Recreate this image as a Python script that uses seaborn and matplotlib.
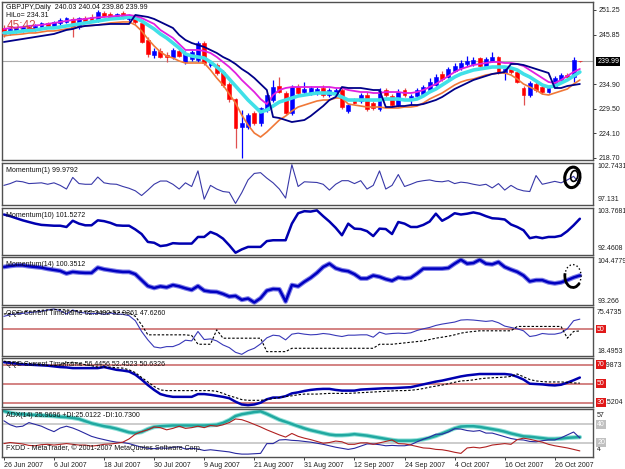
import numpy as np
import matplotlib
matplotlib.use("Agg")
import matplotlib.pyplot as plt
import matplotlib.transforms as mtransforms
from matplotlib.patches import Ellipse, Arc
import seaborn as sns

# ---------------- data ----------------
date_labels = ["26 Jun 2007", "6 Jul 2007", "18 Jul 2007", "30 Jul 2007", "9 Aug 2007",
               "21 Aug 2007", "31 Aug 2007", "12 Sep 2007", "24 Sep 2007", "4 Oct 2007",
               "16 Oct 2007", "26 Oct 2007"]
date_bars = [0, 8, 16, 24, 32, 40, 48, 56, 64, 72, 80, 88]

opens = [247.3, 246.2, 246.6, 246.9, 247.6, 247.0, 247.5, 248.3, 247.8, 248.4,
         248.7, 249.3, 247.4, 249.4, 249.7, 248.9, 250.6, 250.4, 249.8, 250.6,
         249.3, 249.8, 248.3, 244.6, 241.4, 242.3, 241.4, 240.9, 242.3, 239.8,
         240.5, 240.2, 244.0, 239.1, 239.2, 237.6, 235.0, 231.6, 225.6, 225.6,
         228.6, 226.3, 229.3, 231.4, 234.6, 233.0, 228.6, 234.3, 233.2, 232.9,
         233.0, 234.2, 232.5, 232.8, 233.6, 229.0, 231.6, 231.2, 232.6, 230.8,
         229.4, 233.6, 232.3, 230.4, 233.7, 231.8, 232.4, 232.8, 233.6, 234.8,
         237.2, 236.6, 237.9, 238.4, 239.4, 239.3, 240.6, 239.0, 240.0, 240.8,
         237.4, 238.3, 237.6, 234.2, 232.5, 235.0, 234.3, 233.3, 234.3, 235.8,
         237.0, 236.5, 240.03]
highs = [247.9, 247.3, 247.6, 247.9, 248.0, 248.1, 248.6, 248.7, 248.9, 249.4,
         249.8, 249.7, 249.8, 249.9, 250.3, 251.2, 251.0, 250.9, 250.6, 251.0,
         250.4, 250.1, 248.6, 245.2, 242.8, 242.8, 242.0, 242.9, 242.8, 242.2,
         242.4, 244.5, 244.4, 240.2, 239.6, 238.0, 235.4, 232.0, 229.3, 228.6,
         229.0, 230.0, 233.1, 235.9, 236.5, 233.5, 234.8, 234.9, 235.5, 234.6,
         234.4, 234.7, 234.0, 234.1, 234.0, 230.6, 232.0, 233.0, 233.2, 231.2,
         234.0, 234.1, 232.8, 233.8, 234.2, 232.8, 234.1, 234.8, 236.2, 237.2,
         237.8, 238.8, 239.6, 240.2, 241.2, 240.8, 241.0, 241.0, 241.9, 241.2,
         239.0, 238.7, 238.0, 234.6, 235.6, 235.4, 234.7, 234.4, 236.7, 237.3,
         237.4, 240.8, 240.04]
lows = [245.4, 245.8, 246.2, 246.5, 246.6, 246.7, 247.2, 247.4, 247.5, 248.0,
        248.3, 245.4, 247.1, 248.5, 248.6, 248.6, 249.7, 249.5, 249.4, 249.3,
        248.6, 248.2, 243.9, 240.8, 240.6, 240.6, 239.8, 240.5, 240.9, 239.4,
        240.1, 239.9, 239.1, 238.6, 237.0, 234.3, 231.1, 220.9, 218.7, 225.0,
        226.0, 225.8, 228.9, 231.0, 233.0, 228.3, 228.2, 232.6, 232.8, 232.5,
        232.6, 232.2, 232.1, 232.4, 229.5, 228.6, 230.5, 230.9, 229.0, 229.2,
        229.1, 232.2, 230.0, 230.0, 232.2, 230.3, 232.0, 232.4, 233.3, 234.5,
        235.7, 236.3, 237.5, 238.0, 239.0, 238.9, 238.7, 238.7, 239.7, 237.2,
        235.9, 237.2, 235.1, 230.4, 232.2, 233.3, 232.8, 233.0, 234.0, 235.5,
        236.0, 235.5, 239.86]
closes = [246.0, 247.0, 247.3, 247.6, 247.0, 247.8, 248.3, 247.8, 248.6, 249.1,
          249.4, 247.2, 249.4, 248.9, 249.0, 250.7, 250.0, 249.8, 250.3, 249.6,
          250.0, 248.5, 244.3, 241.6, 242.3, 241.0, 240.8, 242.4, 241.2, 241.8,
          242.0, 244.0, 239.5, 239.6, 237.4, 234.8, 231.6, 225.2, 226.4, 228.1,
          226.5, 229.6, 232.6, 234.3, 233.3, 228.6, 234.3, 233.0, 233.8, 234.0,
          233.9, 232.6, 233.6, 233.7, 229.9, 230.3, 230.9, 232.6, 229.4, 229.6,
          233.5, 232.6, 230.4, 233.3, 232.6, 232.4, 233.7, 234.4, 235.5, 236.6,
          236.0, 238.2, 239.0, 239.6, 240.1, 240.3, 239.0, 240.5, 240.8, 237.5,
          238.3, 237.6, 235.5, 232.5, 235.2, 233.7, 233.2, 234.0, 236.3, 236.9,
          236.4, 240.3, 239.99]

ma_magenta = [247.07, 247.29, 247.40, 247.51, 247.73, 247.84, 247.95, 248.17, 248.39, 248.61,
              248.83, 249.05, 249.16, 249.27, 249.49, 249.60, 249.71, 249.82, 249.93, 250.04,
              250.15, 249.93, 249.49, 248.83, 248.17, 246.85, 245.97, 245.09, 243.77, 242.45,
              242.45, 242.45, 242.23, 241.79, 240.91, 239.81, 238.71, 237.39, 235.85, 234.53,
              233.21, 231.67, 230.57, 232.55, 233.65, 234.09, 234.31, 234.31, 234.31, 234.31,
              234.31, 234.31, 234.31, 234.09, 234.09, 233.65, 233.43, 233.21, 233.21, 232.99,
              232.99, 233.21, 233.21, 233.21, 232.99, 232.99, 233.21, 233.65, 234.31, 234.97,
              235.85, 236.73, 237.61, 238.27, 238.71, 239.15, 239.37, 239.59, 239.81, 239.81,
              239.59, 239.59, 239.37, 238.93, 238.05, 237.17, 236.29, 235.41, 235.19, 235.85,
              236.73, 237.61, 238.27]
ma_cyan = [246.19, 246.30, 246.41, 246.63, 246.74, 246.85, 247.07, 247.29, 247.29, 247.51,
           247.73, 247.95, 248.17, 248.39, 248.61, 248.83, 249.05, 249.27, 249.38, 249.49,
           249.71, 249.49, 248.83, 247.95, 247.07, 245.97, 245.09, 243.99, 242.89, 241.57,
           241.13, 240.91, 240.69, 239.81, 238.71, 237.61, 236.07, 234.53, 232.99, 231.45,
           230.13, 228.81, 229.25, 230.13, 231.01, 231.45, 231.89, 232.33, 232.55, 232.77,
           232.99, 232.99, 232.99, 232.77, 232.11, 231.45, 231.45, 231.45, 231.45, 231.45,
           231.45, 231.67, 231.67, 231.67, 231.45, 231.45, 231.67, 232.33, 233.21, 233.87,
           234.75, 235.63, 236.51, 237.17, 237.61, 238.05, 238.27, 238.49, 238.71, 238.71,
           238.71, 238.49, 238.05, 237.17, 236.51, 235.63, 234.75, 234.31, 234.53, 235.19,
           235.85, 236.73, 237.61]
ma_orange = [245.53, 245.75, 245.86, 245.97, 246.19, 246.19, 246.41, 246.63, 246.63, 246.85,
             247.07, 247.29, 247.51, 247.73, 247.84, 247.95, 248.17, 248.39, 248.50, 248.61,
             248.61, 247.95, 246.63, 244.87, 243.33, 242.01, 241.13, 240.69, 240.03, 239.59,
             239.59, 239.59, 239.59, 238.05, 236.29, 234.75, 232.77, 230.79, 228.15, 225.95,
             224.19, 223.31, 224.41, 225.73, 227.05, 227.93, 229.03, 229.91, 230.35, 230.79,
             231.23, 231.45, 231.45, 231.89, 231.89, 230.57, 230.35, 230.13, 229.91, 229.91,
             229.91, 229.69, 229.69, 229.69, 229.91, 229.91, 230.13, 230.79, 231.67, 232.33,
             232.99, 233.87, 234.75, 235.41, 235.85, 236.07, 236.51, 236.95, 237.17, 237.39,
             237.39, 236.95, 236.07, 234.97, 234.31, 233.65, 232.77, 232.55, 232.99, 233.43,
             233.87, 234.97, 235.85]
ma_navy = [244.21, 244.43, 244.65, 244.87, 245.09, 245.31, 245.53, 245.75, 245.97, 246.41,
           246.85, 247.07, 247.51, 247.73, 247.84, 247.95, 248.06, 248.17, 248.17, 248.17,
           248.17, 250.15, 249.93, 249.71, 249.27, 248.61, 247.95, 247.29, 245.75, 244.65,
           243.99, 243.55, 243.11, 242.45, 241.79, 240.91, 240.25, 239.37, 238.27, 237.39,
           236.29, 234.97, 233.65, 227.71, 227.49, 227.05, 226.61, 226.83, 227.05, 227.93,
           229.03, 230.13, 231.45, 232.11, 234.31, 234.09, 234.09, 234.09, 233.87, 233.65,
           233.65, 229.91, 229.91, 230.13, 230.13, 230.35, 230.35, 230.57, 231.01, 231.45,
           232.11, 232.99, 233.87, 234.53, 235.19, 235.85, 236.29, 236.73, 237.17, 237.39,
           237.61, 239.37, 239.37, 239.15, 238.71, 238.27, 237.83, 237.39, 234.09, 234.09,
           234.53, 234.75, 234.97]

momentum1 = [99.74, 100.00, 100.37, 100.26, 100.00, 100.05, 100.11, 99.90, 100.11, 99.74,
             99.21, 100.89, 100.00, 99.90, 99.90, 100.95, 100.11, 99.95, 99.90, 99.58,
             99.32, 98.95, 98.27, 99.06, 99.90, 100.37, 100.37, 99.90, 99.21, 100.11,
             99.58, 101.84, 97.74, 99.74, 99.21, 98.85, 98.74, 97.13, 98.69, 100.53,
             101.47, 101.58, 100.79, 100.11, 99.21, 97.90, 102.74, 99.58, 100.26, 100.21,
             100.16, 99.90, 99.06, 99.90, 100.42, 100.42, 100.00, 100.42, 99.21, 99.74,
             101.84, 99.21, 99.74, 101.31, 99.58, 99.90, 100.26, 100.42, 100.53, 100.32,
             100.26, 100.42, 100.00, 100.21, 100.11, 99.90, 99.74, 99.90, 99.37, 100.00,
             99.06, 99.74, 99.21, 98.95, 98.85, 101.16, 99.90, 100.11, 100.32, 100.11,
             100.53, 101.05, 99.98]
momentum10 = [102.66, 102.22, 101.66, 101.11, 100.66, 100.22, 99.89, 99.78, 99.67, 99.67,
              99.33, 101.00, 100.22, 99.78, 99.78, 101.11, 100.89, 100.44, 99.78, 99.67,
              99.67, 98.67, 97.45, 95.34, 95.12, 94.23, 94.45, 95.01, 94.90, 94.90,
              94.90, 96.67, 96.67, 98.00, 97.34, 96.23, 94.45, 92.46, 93.35, 94.01,
              94.01, 94.01, 95.56, 95.79, 95.79, 95.79, 100.22, 103.00, 103.55, 103.44,
              103.77, 102.22, 100.78, 99.11, 97.12, 100.22, 98.89, 98.78, 98.22, 96.90,
              98.89, 98.78, 97.45, 100.66, 100.22, 99.33, 99.33, 99.89, 100.78, 102.88,
              100.99, 101.88, 103.00, 102.66, 102.88, 103.22, 102.88, 102.22, 101.66, 101.55,
              101.33, 100.00, 99.33, 98.45, 96.34, 96.67, 96.34, 96.67, 96.67, 97.01,
              98.22, 99.78, 101.53]
momentum14 = [102.58, 102.84, 103.01, 103.01, 102.76, 102.58, 102.41, 102.07, 101.81, 101.55,
              100.86, 101.29, 101.12, 101.03, 101.03, 102.41, 101.98, 101.72, 101.46, 101.29,
              101.29, 100.69, 99.13, 97.58, 97.06, 97.49, 97.23, 97.84, 97.49, 96.98,
              96.55, 97.58, 96.37, 96.11, 96.03, 95.51, 94.82, 94.99, 93.96, 94.30,
              93.27, 94.39, 96.37, 96.80, 96.72, 93.53, 97.84, 97.49, 98.70, 99.74,
              101.03, 102.58, 103.45, 102.24, 101.72, 101.46, 100.69, 99.56, 99.56, 100.34,
              100.00, 99.39, 98.96, 99.82, 99.56, 99.74, 100.86, 102.15, 102.15, 102.15,
              102.15, 102.32, 103.45, 104.48, 103.45, 103.62, 104.48, 103.45, 103.27, 103.88,
              102.58, 101.89, 101.29, 100.34, 98.79, 99.13, 99.13, 98.53, 98.27, 98.53,
              99.13, 99.82, 100.35]

qqe1_rsi = [65.83, 67.93, 68.77, 69.60, 70.44, 71.28, 72.12, 73.79, 75.05, 72.96,
            68.77, 73.79, 70.86, 70.02, 69.19, 69.60, 68.35, 70.02, 68.77, 68.35,
            66.67, 60.39, 46.98, 36.50, 27.71, 26.45, 28.12, 28.12, 31.06, 36.08,
            35.25, 46.98, 36.92, 37.73, 35.25, 30.22, 26.87, 21.00, 18.50, 23.10,
            26.03, 31.48, 39.02, 42.37, 41.53, 36.50, 43.63, 44.88, 43.63, 42.79,
            43.21, 44.46, 43.63, 41.95, 40.69, 42.37, 42.37, 42.79, 42.79, 39.85,
            46.14, 43.63, 44.46, 44.88, 44.46, 45.30, 48.24, 50.33, 52.01, 54.52,
            56.20, 57.45, 58.71, 61.22, 61.64, 61.22, 60.39, 59.55, 60.39, 57.87,
            53.68, 52.01, 50.33, 47.82, 40.69, 41.95, 44.46, 43.63, 43.63, 45.30,
            50.33, 60.39, 62.35]
qqe1_trail = [68.77, 69.60, 70.44, 71.28, 72.12, 72.96, 73.38, 73.79, 74.21, 74.21,
              73.79, 72.96, 72.96, 72.12, 71.70, 71.28, 71.28, 70.86, 70.86, 70.44,
              70.02, 65.83, 55.36, 42.79, 42.79, 42.79, 42.79, 42.79, 42.79, 42.79,
              41.95, 31.06, 31.06, 31.06, 49.07, 38.60, 38.60, 38.60, 38.60, 38.60,
              38.60, 38.60, 21.84, 21.84, 21.84, 21.84, 26.03, 26.03, 26.03, 26.03,
              26.03, 26.03, 26.03, 26.03, 26.03, 26.03, 26.03, 26.03, 26.03, 26.03,
              31.06, 31.06, 31.06, 31.89, 32.73, 33.57, 34.41, 35.25, 36.92, 38.60,
              39.85, 41.11, 42.79, 44.88, 46.14, 46.98, 47.82, 47.82, 47.82, 47.82,
              47.82, 47.82, 53.26, 53.26, 53.26, 53.26, 53.26, 53.26, 53.26, 53.26,
              38.60, 46.98, 47.63]
qqe2_rsi = [72.55, 71.82, 71.09, 70.36, 70.00, 69.64, 69.27, 68.91, 68.18, 67.45,
            67.09, 66.36, 66.36, 66.36, 66.36, 66.36, 67.45, 66.00, 64.55, 63.82,
            62.73, 59.46, 54.36, 48.55, 43.46, 39.09, 37.27, 36.18, 36.18, 36.18,
            36.18, 39.09, 39.09, 38.36, 37.27, 36.18, 34.73, 31.09, 28.18, 27.45,
            28.18, 30.00, 33.64, 35.45, 35.45, 36.91, 39.82, 40.91, 42.36, 43.46,
            44.18, 44.55, 44.55, 43.46, 42.73, 42.73, 42.73, 43.82, 44.18, 44.55,
            44.91, 45.27, 45.27, 45.64, 46.00, 46.36, 47.82, 49.27, 50.73, 52.18,
            53.27, 54.73, 56.18, 57.64, 58.73, 59.46, 60.18, 60.18, 60.18, 60.18,
            60.18, 59.46, 57.27, 54.36, 50.00, 49.64, 49.27, 48.55, 48.18, 48.91,
            51.09, 53.64, 56.45]
qqe2_trail = [73.64, 72.91, 72.18, 71.45, 71.09, 70.73, 70.00, 69.27, 68.91, 69.64,
              71.82, 72.55, 71.09, 70.00, 68.91, 67.45, 67.45, 67.45, 66.73, 66.36,
              64.55, 61.64, 56.55, 51.82, 47.09, 43.46, 42.73, 42.73, 42.73, 42.73,
              42.73, 42.73, 42.73, 42.73, 42.00, 39.82, 37.27, 35.45, 33.27, 32.55,
              32.55, 32.55, 33.27, 34.36, 35.45, 36.55, 37.27, 38.36, 39.09, 39.09,
              39.09, 39.46, 39.82, 39.82, 39.82, 39.82, 40.18, 40.55, 40.91, 41.27,
              41.64, 42.00, 42.36, 42.73, 42.73, 43.09, 43.82, 44.91, 46.36, 47.46,
              48.55, 50.00, 51.46, 52.91, 53.27, 54.00, 55.09, 55.82, 56.18, 56.55,
              56.91, 57.64, 60.18, 57.27, 54.36, 52.91, 52.18, 51.82, 51.82, 51.82,
              51.46, 50.73, 50.63]

adx = [54.8, 52.8, 51.6, 51.2, 50.8, 50.4, 50.0, 49.6, 49.2, 48.4,
       48.0, 47.2, 46.0, 43.6, 41.2, 39.6, 38.0, 36.8, 35.2, 33.2,
       31.2, 30.4, 31.6, 34.8, 37.2, 38.0, 38.4, 38.8, 38.8, 38.8,
       38.8, 38.8, 38.8, 39.2, 39.6, 41.6, 44.8, 49.2, 51.2, 52.4,
       53.6, 54.4, 51.6, 48.4, 45.2, 42.8, 40.4, 38.0, 35.6, 33.6,
       32.0, 30.4, 28.8, 28.0, 28.0, 28.4, 29.2, 28.4, 27.6, 26.4,
       25.2, 24.0, 22.8, 22.0, 22.0, 22.0, 22.4, 23.6, 25.2, 27.2,
       30.0, 32.8, 35.6, 37.6, 38.0, 38.0, 37.2, 36.0, 34.8, 33.6,
       32.0, 30.0, 28.4, 26.8, 26.4, 25.6, 24.8, 24.0, 24.0, 24.4,
       25.2, 25.6, 25.97]
plus_di = [44.0, 39.6, 37.2, 38.0, 42.0, 40.0, 38.0, 34.8, 32.0, 36.0,
           38.0, 36.0, 33.2, 30.0, 26.8, 24.8, 23.2, 21.6, 20.4, 20.0,
           18.8, 16.8, 14.8, 13.6, 13.2, 14.0, 13.6, 14.8, 15.2, 12.8,
           13.6, 12.8, 11.2, 12.0, 11.2, 10.4, 9.6, 8.0, 7.2, 7.2,
           7.6, 8.0, 18.8, 18.8, 22.8, 23.2, 22.4, 22.0, 21.2, 20.4,
           19.2, 18.0, 16.4, 14.8, 13.6, 12.4, 13.6, 16.0, 18.4, 18.4,
           17.6, 16.4, 16.8, 16.4, 16.4, 17.6, 20.8, 23.6, 26.0, 29.2,
           29.2, 31.6, 35.2, 34.8, 33.2, 32.4, 33.2, 30.4, 30.4, 28.4,
           26.4, 24.4, 23.2, 22.8, 21.2, 20.8, 22.0, 22.8, 22.8, 25.2,
           28.4, 31.6, 25.01]
minus_di = [18.8, 20.0, 19.2, 18.4, 16.8, 16.4, 17.6, 18.0, 17.2, 18.0,
            18.8, 18.0, 17.2, 17.2, 16.0, 16.8, 18.0, 18.4, 19.2, 20.4,
            24.0, 29.2, 32.0, 34.0, 37.2, 36.4, 34.0, 35.6, 38.0, 35.6,
            36.4, 38.0, 36.4, 38.8, 38.0, 39.6, 42.0, 46.0, 45.2, 42.8,
            40.0, 37.2, 34.0, 31.2, 28.4, 26.0, 30.0, 26.8, 24.8, 23.2,
            21.2, 19.2, 20.0, 21.6, 20.8, 18.0, 18.0, 19.6, 19.6, 18.0,
            19.6, 21.2, 22.8, 18.8, 18.4, 17.2, 15.6, 14.0, 13.6, 12.4,
            12.0, 10.8, 9.2, 8.0, 14.0, 14.8, 14.0, 15.2, 17.2, 18.0,
            18.8, 18.0, 23.2, 24.8, 23.6, 22.0, 20.4, 18.0, 16.4, 15.2,
            14.0, 12.4, 10.73]

# ---------------- figure ----------------
sns.set_style("white")
plt.rcParams["font.family"] = ["Liberation Sans", "DejaVu Sans"]
FS = 5
W, H = 625.0, 469.0
idx = np.arange(len(closes))

fig = plt.figure(figsize=(6.25, 4.69), dpi=100)


def make_panel(top, bottom):
    ax = fig.add_axes([2 / W, 1 - bottom / H, 591 / W, (bottom - top) / H])
    for s in ax.spines.values():
        s.set_color("#505050")
        s.set_linewidth(1.0)
    return ax


def finish(ax, ylim):
    ax.set_xlim(-0.3, 94.1)
    ax.set_ylim(*ylim)
    ax.set_xticks([])
    ax.set_yticks([])
    ax.set_xlabel("")
    ax.set_ylabel("")


def line(ax, y, color, lw, **kw):
    sns.lineplot(x=idx, y=y, ax=ax, color=color, linewidth=lw, legend=False, **kw)


def side(ax, frac, s):
    ax.text(1.007, frac, s, transform=ax.transAxes, ha="left", va="center",
            fontsize=FS, color="#202020", clip_on=False)


def level_box(ax, val, s, fc):
    tr = mtransforms.blended_transform_factory(ax.transAxes, ax.transData)
    ax.text(1.007, val, s, transform=tr, ha="left", va="center", fontsize=FS,
            color="white", clip_on=False, zorder=10,
            bbox=dict(boxstyle="square,pad=0.12", fc=fc, ec="none"))


def header(ax, s, frac=0.93):
    ax.text(0.006, frac, s, transform=ax.transAxes, ha="left", va="top",
            fontsize=FS, color="#101010", zorder=10)


# ---- main price panel ----
ax = make_panel(2, 160)
o = np.array(opens)
c = np.array(closes)
up = c >= o
body_col = np.where(up, "#0000ff", "#ff0000")
wick_col = np.where(up, "#0000ff", "#e05050")
ax.axhline(closes[-1], color="#a8a8a8", lw=0.8, zorder=1)
ax.vlines(idx, lows, highs, colors=wick_col, lw=0.9, zorder=2)
ax.bar(idx, np.abs(c - o), bottom=np.minimum(o, c), width=0.62, color=body_col,
       edgecolor=body_col, linewidth=0.4, zorder=3)
line(ax, ma_orange, "#f07838", 1.2, zorder=4)
line(ax, ma_cyan, "#40e0e8", 2.6, zorder=4)
line(ax, ma_magenta, "#e020e0", 1.3, zorder=5)
line(ax, ma_navy, "#000088", 1.3, zorder=5)
finish(ax, (218.26, 253.0))
ax.yaxis.tick_right()
main_ticks = [251.25, 245.85, 234.90, 229.50, 224.10, 218.70]
ax.set_yticks(main_ticks)
ax.set_yticklabels([f"{t:.2f}" for t in main_ticks])
ax.tick_params(axis="y", length=2.5, width=0.6, labelsize=FS, pad=1.5,
               colors="#202020", right=True)
tr = mtransforms.blended_transform_factory(ax.transAxes, ax.transData)
ax.text(1.007, closes[-1], f"{closes[-1]:.2f}", transform=tr, ha="left", va="center",
        fontsize=FS, color="white", clip_on=False,
        bbox=dict(boxstyle="square,pad=0.12", fc="black", ec="none"))
header(ax, "GBPJPY,Daily  240.03 240.04 239.86 239.99", 0.99)
header(ax, "HiLo= 234.31", 0.935)
ax.text(0.008, 0.848, "45:42", transform=ax.transAxes, ha="left", va="center",
        fontsize=8.5, color="#d04848", zorder=10)

# ---- Momentum(1) ----
ax = make_panel(163, 205)
line(ax, momentum1, "#3838a8", 0.8)
ax.add_patch(Ellipse((90.8, 100.9), 2.4, 3.0, angle=-15, fill=False, ec="black", lw=2.2, zorder=6))
ax.add_patch(Ellipse((91.1, 101.1), 1.1, 1.6, angle=-15, fill=False, ec="black", lw=1.2, zorder=6))
finish(ax, (96.9, 102.98))
header(ax, "Momentum(1) 99.9792", 0.9)
side(ax, 0.905, "102.7431")
side(ax, 0.12, "97.131")

# ---- Momentum(10) ----
ax = make_panel(208, 255)
line(ax, momentum10, "#0000b0", 1.8)
finish(ax, (91.85, 104.4))
header(ax, "Momentum(10) 101.5272", 0.92)
side(ax, 0.936, "103.7681")
side(ax, 0.128, "92.4608")

# ---- Momentum(14) ----
ax = make_panel(257, 305)
line(ax, momentum14, "#8080e8", 3.4)
line(ax, momentum14, "#0000c0", 1.8)
ax.add_patch(Ellipse((90.9, 100.2), 2.6, 6.0, fill=False, ec="black", lw=1.0, ls=":", zorder=6))
ax.add_patch(Arc((90.9, 100.2), 2.6, 6.0, theta1=150, theta2=300, ec="black", lw=2.0, zorder=6))
finish(ax, (92.6, 105.2))
header(ax, "Momentum(14) 100.3512", 0.92)
side(ax, 0.896, "104.4779")
side(ax, 0.083, "93.266")

# ---- QQE panel 1 ----
ax = make_panel(307, 356)
ax.axhline(50, color="#d07878", lw=1.3, zorder=1)
line(ax, qqe1_rsi, "#3838b8", 0.8)
line(ax, qqe1_trail, "black", 0.8, linestyle=(0, (2.2, 1.6)))
finish(ax, (16.4, 77.5))
header(ax, "QQE Current Timeframe 62.3482 52.9361 47.6260", 0.93)
side(ax, 0.878, "75.4735")
side(ax, 0.082, "18.4953")
level_box(ax, 50, "50", "#e01818")

# ---- QQE panel 2 ----
ax = make_panel(358, 407)
for lv in (70, 50, 30):
    ax.axhline(lv, color="#d07878", lw=1.3, zorder=1)
line(ax, qqe2_rsi, "#0000b0", 1.8)
line(ax, qqe2_trail, "black", 0.8, linestyle=(0, (2.2, 1.6)))
finish(ax, (25.5204, 76.9873))
header(ax, "QQE Current Timeframe 56.4456 52.4523 50.6326", 0.93)
side(ax, 0.857, "76.9873")
side(ax, 0.09, "25.5204")
for lv in (70, 50, 30):
    level_box(ax, lv, str(lv), "#e01818")

# ---- ADX ----
ax = make_panel(409, 457)
for lv in (40, 20):
    ax.axhline(lv, color="#c8c8c8", lw=1.3, zorder=1)
line(ax, adx, "#8fe0d8", 3.2)
line(ax, adx, "#20a8a0", 1.8)
line(ax, plus_di, "#2828a0", 0.8)
line(ax, minus_di, "#b02020", 0.8)
finish(ax, (4, 57))
header(ax, "ADX(14) 25.9696 +DI:25.0122 -DI:10.7300", 0.93)
ax.text(0.006, 0.19, "FXDD - MetaTrader, \u00a9 2001-2007 MetaQuotes Software Corp.",
        transform=ax.transAxes, ha="left", va="center", fontsize=FS, color="#101010", zorder=10)
side(ax, 0.86, "57")
side(ax, 0.16, "4")
for lv in (40, 20):
    level_box(ax, lv, str(lv), "#c0c0c0")
ax.set_xticks(date_bars)
ax.set_xticklabels(date_labels)
for lbl in ax.get_xticklabels():
    lbl.set_ha("left")
ax.tick_params(axis="x", length=2, width=0.6, labelsize=FS, pad=1.5, colors="#202020", bottom=True)

fig.savefig("out.png", dpi=100, facecolor="white")
